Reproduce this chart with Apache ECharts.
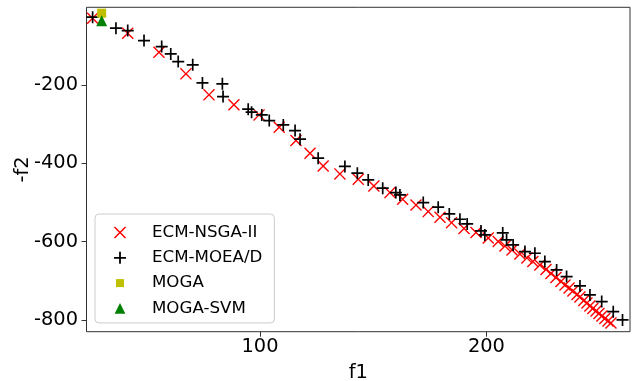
<!DOCTYPE html>
<html>
<head>
<meta charset="utf-8">
<script src="https://cdn.jsdelivr.net/npm/echarts@6/dist/echarts.min.js"></script>
<style>
html,body{margin:0;padding:0;background:#fff;}
#chart{width:644px;height:381px;}
</style>
</head>
<body>
<div id="chart"></div>
<script>
// ---- data ----
const nsgaF1 = [26.1,41.6,55.4,67.3,77.5,88.5,99.6,108.5,115.9,122.1,127.9,135.3,143.4,150.3,157.4,163.0,168.9,174.3,179.5,184.6,190.1,195.4,200.8,205.2,208.2,211.3,214.8,217.9,220.5,223.6,226.3,228.5,230.7,232.9,234.7,236.5,238.2,240.0,241.3,243.0,244.4,245.7,247.0,248.4,249.7,251.0,252.3,253.7,255.0];
const nsgaF2 = [-29.7,-68.0,-116.5,-171.9,-225.5,-251.0,-276.6,-308.0,-342.2,-374.4,-406.8,-427.2,-440.7,-457.9,-475.0,-491.8,-506.4,-523.5,-537.8,-551.6,-566.4,-576.6,-590.6,-600.0,-611.0,-621.2,-631.4,-641.6,-650.6,-659.5,-671.0,-681.2,-691.5,-701.7,-710.6,-718.3,-725.9,-734.8,-741.2,-750.2,-756.6,-764.2,-770.6,-777.0,-783.4,-789.7,-796.1,-802.5,-807.6];
const moeadF1 = [26.1,36.4,41.6,48.8,56.6,60.6,63.9,70.3,74.6,83.4,83.7,94.8,96.3,100.8,104.1,110.3,115.5,117.7,125.7,137.5,143.0,147.8,154.2,160.0,161.8,172.1,178.7,183.6,188.3,191.5,197.6,199.3,207.2,208.9,211.8,217.0,221.4,225.8,231.0,235.4,241.3,245.7,250.9,256.0,260.1];
const moeadF2 = [-27.2,-55.2,-61.4,-86.9,-102.2,-120.9,-140.5,-148.9,-194.9,-197.4,-229.9,-262.0,-269.7,-276.6,-291.1,-302.1,-316.7,-338.6,-387.1,-408.1,-425.4,-442.5,-463.7,-475.0,-480.8,-500.5,-512.2,-529.3,-542.9,-554.9,-572.7,-583.0,-577.8,-595.7,-608.5,-625.6,-629.7,-651.1,-672.3,-689.4,-713.2,-736.1,-753.2,-778.8,-800.0];
const mogaF1 = [30.1];
const mogaF2 = [-17];
const svmF1 = [30.1];
const svmF2 = [-36.6];
const seriesNames = ['ECM-NSGA-II','ECM-MOEA/D','MOGA','MOGA-SVM'];
const xTicks = [100, 200];
const yTicks = [-200, -400, -600, -800];

const zip = (a, b) => a.map((v, i) => [v, b[i]]);

// ---- symbols ----
const X_PATH = 'path://M0,8.2 L8.2,0 L50,41.8 L91.8,0 L100,8.2 L58.2,50 L100,91.8 L91.8,100 L50,58.2 L8.2,100 L0,91.8 L41.8,50 Z';
const PLUS_PATH = 'path://M43,0 L57,0 L57,43 L100,43 L100,57 L57,57 L57,100 L43,100 L43,57 L0,57 L0,43 L43,43 Z';
const BOX = 'M0,0 M140,140 ';
const X_ICON = 'path://' + BOX + 'M10,20.6 L20.6,10 L70,59.4 L119.4,10 L130,20.6 L80.6,70 L130,119.4 L119.4,130 L70,80.6 L20.6,130 L10,119.4 L59.4,70 Z';
const PLUS_ICON = 'path://' + BOX + 'M61,10 L79,10 L79,61 L130,61 L130,79 L79,79 L79,130 L61,130 L61,79 L10,79 L10,61 L61,61 Z';
const SQ_ICON = 'path://' + BOX + 'M30,30 L110,30 L110,110 L30,110 Z';
const TRI_ICON = 'path://' + BOX + 'M70,16.5 L123.5,123.5 L16.5,123.5 Z';

const FONT = 'DejaVu Sans';
const chart = echarts.init(document.getElementById('chart'), null, {renderer: 'canvas'});
chart.setOption({
  animation: false,
  backgroundColor: '#fff',
  grid: {left: 86.5, right: 14, top: 7.3, bottom: 49.3, containLabel: false, outerBoundsMode: 'none', show: true, borderColor: '#333', borderWidth: 1, backgroundColor: 'transparent'},
  xAxis: {
    type: 'value', min: 23.4, max: 263.4,
    name: 'f1', nameLocation: 'middle', nameGap: 32, nameMoveOverlap: false,
    nameTextStyle: {fontFamily: FONT, fontSize: 19.4, color: '#000'},
    axisLine: {show: false},
    splitLine: {show: false},
    axisTick: {show: true, length: 5, lineStyle: {color: '#333'}, customValues: xTicks},
    axisLabel: {fontFamily: FONT, fontSize: 19.4, color: '#000', margin: 6, customValues: xTicks}
  },
  yAxis: {
    type: 'value', min: -830, max: -2,
    name: '-f2', nameLocation: 'middle', nameGap: 54, nameMoveOverlap: false,
    nameTextStyle: {fontFamily: FONT, fontSize: 19.4, color: '#000'},
    axisLine: {show: false},
    splitLine: {show: false},
    axisTick: {show: true, length: 5, lineStyle: {color: '#333'}, customValues: yTicks},
    axisLabel: {fontFamily: FONT, fontSize: 19.4, color: '#000', margin: 8.5, customValues: yTicks}
  },
  legend: {
    orient: 'vertical', left: 95, top: 214,
    padding: [10, 12, 6, 18],
    backgroundColor: '#fff', borderColor: '#ccc', borderWidth: 1, borderRadius: 4,
    itemWidth: 24, itemHeight: 14, itemGap: 8.3,
    textStyle: {fontFamily: FONT, fontSize: 16.67, color: '#000', lineHeight: 17, padding: [0, 0, 0, 15]},
    data: [
      {name: seriesNames[0], icon: X_ICON},
      {name: seriesNames[1], icon: PLUS_ICON},
      {name: seriesNames[2], icon: SQ_ICON},
      {name: seriesNames[3], icon: TRI_ICON}
    ]
  },
  series: [
    {name: seriesNames[0], type: 'scatter', symbol: X_PATH, symbolSize: 12, itemStyle: {color: '#ff0000', opacity: 1}, data: zip(nsgaF1, nsgaF2), z: 2},
    {name: seriesNames[1], type: 'scatter', symbol: PLUS_PATH, symbolSize: 12, itemStyle: {color: '#000000', opacity: 1}, data: zip(moeadF1, moeadF2), z: 3},
    {name: seriesNames[2], type: 'scatter', symbol: 'rect', symbolSize: 9, itemStyle: {color: '#bfbf00', opacity: 1}, data: zip(mogaF1, mogaF2), z: 4},
    {name: seriesNames[3], type: 'scatter', symbol: 'triangle', symbolSize: 11, itemStyle: {color: '#008000', opacity: 1}, data: zip(svmF1, svmF2), z: 5}
  ]
});
</script>
</body>
</html>
